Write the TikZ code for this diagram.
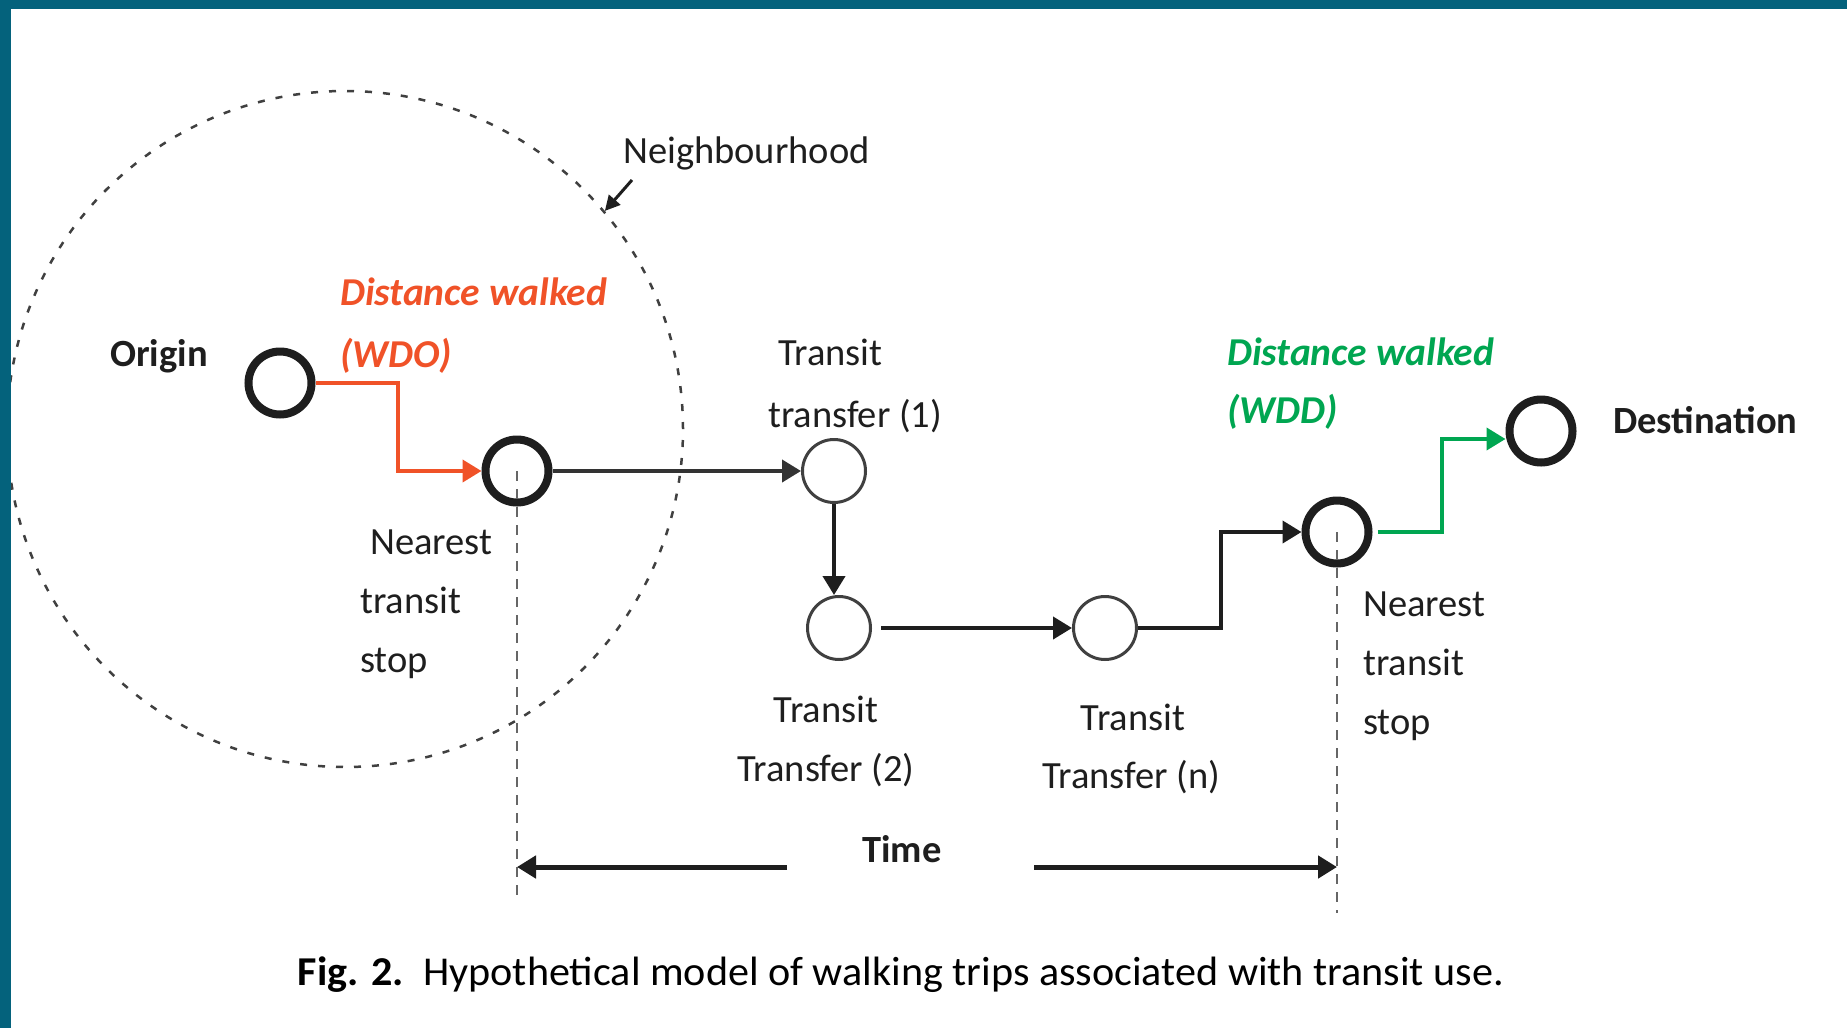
\documentclass[tikz,border=0pt]{standalone}
\usepackage{fontspec}
\usepackage{graphicx}
\setmainfont{Carlito}
\usetikzlibrary{arrows.meta,calc}
\definecolor{bordercol}{RGB}{4,98,124}
\definecolor{redc}{RGB}{240,82,40}
\definecolor{greenc}{RGB}{0,166,81}
\definecolor{inkc}{RGB}{30,30,30}
\tikzset{
  lbl/.style={font=\fontsize{38.5}{46}\selectfont, text=inkc, inner sep=0pt, anchor=base west},
  blbl/.style={lbl, font=\fontsize{38.5}{46}\selectfont\bfseries},
  walk/.style={lbl, font=\fontsize{39.5}{46}\selectfont\bfseries\itshape},
  stopnode/.style={circle, draw=inkc, line width=8pt, minimum size=63pt, inner sep=0pt},
  xfer/.style={circle, draw=black!75, line width=3pt, minimum size=63pt, inner sep=0pt},
  tipA/.style={-{Triangle[length=19pt,width=22pt]}},
  conn/.style={line width=4pt, draw=inkc, tipA},
  redline/.style={line width=4pt, draw=redc, tipA},
  greenline/.style={line width=4pt, draw=greenc, tipA},
  vdash/.style={line width=2.5pt, draw=black!60, dash pattern=on 10pt off 8pt},
  tarr/.style={line width=5pt, draw=inkc, tipA},
  hoodstyle/.style={circle, draw=black!75, line width=2.5pt, dash pattern=on 7pt off 11pt, minimum size=676pt, inner sep=0pt}
}
\begin{document}
\begin{tikzpicture}[x=1pt,y=-1pt]
\useasboundingbox (0,0) rectangle (1847,1028);
\fill[white] (0,0) rectangle (1847,1028);

% neighbourhood
\node[hoodstyle] (hood) at (345,429) {};
\node[lbl] (nbh) at (623,163) {Neighbourhood};
\coordinate (nbs) at (632,180);
\draw[line width=3pt, draw=inkc, -{Triangle[length=15pt,width=15pt]}] (nbs) -- (hood.40);

% stops and transfers
\node[stopnode] (O) at (280,383) {};
\node[stopnode] (S1) at (517,471) {};
\node[xfer] (T1) at (834,471) {};
\node[xfer] (T2) at (839,628) {};
\node[xfer] (Tn) at (1105,628) {};
\node[stopnode] (S2) at (1337,532) {};
\node[stopnode] (D) at (1541,431) {};

% dashed verticals
\coordinate (tb1) at (0,901);
\coordinate (tb2) at (0,913);
\draw[vdash] (S1.center) -- (S1 |- tb1);
\draw[vdash] (S2.center) -- (S2 |- tb2);

% connectors
\draw[conn, draw=black!80] (S1.east) -- (T1.west);
\draw[conn] (T1.south) -- (T1.south |- T2.north);
\draw[conn, shorten <=9pt] (T2.east) -- (Tn.west);
\coordinate (bk) at (1221,0);
\draw[conn] (Tn.east) -- (Tn.east -| bk) -- (bk |- S2.west) -- (S2.west);
\coordinate (br) at (398,0);
\draw[redline] (O.east) -- (O.east -| br) -- (br |- S1.west) -- (S1.west);
\coordinate (bg) at (1442,439);
\draw[greenline, shorten <=5pt] (S2.east) -- (S2.east -| bg) -- (bg) -- (bg -| D.west);

% time
\node[blbl, anchor=base] (time) at (902,862) {Time};
\coordinate (tl) at (787,867);
\coordinate (tr) at (1034,867);
\draw[tarr] (tl) -- (tl -| S1);
\draw[tarr] (tr) -- (tr -| S2);

% labels
\node[blbl] (lorig) at (110,366) {Origin};
\node[walk, text=redc] (wdo1) at (340,305) {Distance walked};
\node[walk, text=redc] (wdo2) at (340,367) {(WDO)};
\node[walk, text=greenc] (wdd1) at (1227,365) {Distance walked};
\node[walk, text=greenc] (wdd2) at (1227,423) {(WDD)};
\node[lbl] (n1a) at (370,554) {Nearest};
\node[lbl] (n1b) at (360,613) {transit};
\node[lbl] (n1c) at (360,672) {stop};
\node[lbl] (t1a) at (778,365) {Transit};
\node[lbl] (t1b) at (768,427) {transfer (1)};
\node[lbl, anchor=base] (t2a) at (826,722) {Transit};
\node[lbl, anchor=base] (t2b) at (826,781) {Transfer (2)};
\node[lbl, anchor=base] (tna) at (1133,730) {Transit};
\node[lbl, anchor=base] (tnb) at (1131,788) {Transfer (n)};
\node[lbl] (n2a) at (1363,616) {Nearest};
\node[lbl] (n2b) at (1363,675) {transit};
\node[lbl] (n2c) at (1363,734) {stop};
\node[blbl] (ldest) at (1613,433) {Destination};

% caption
\node[anchor=base, inner sep=0pt] (cap) at (901,985) {\resizebox{1206pt}{\height}{\fontsize{41}{48}\selectfont\textbf{Fig. 2.}\ \ Hypothetical model of walking trips associated with transit use.}};

% frame
\fill[bordercol] (0,0) rectangle (1847,9);
\fill[bordercol] (0,0) rectangle (11,1028);
\end{tikzpicture}
\end{document}
